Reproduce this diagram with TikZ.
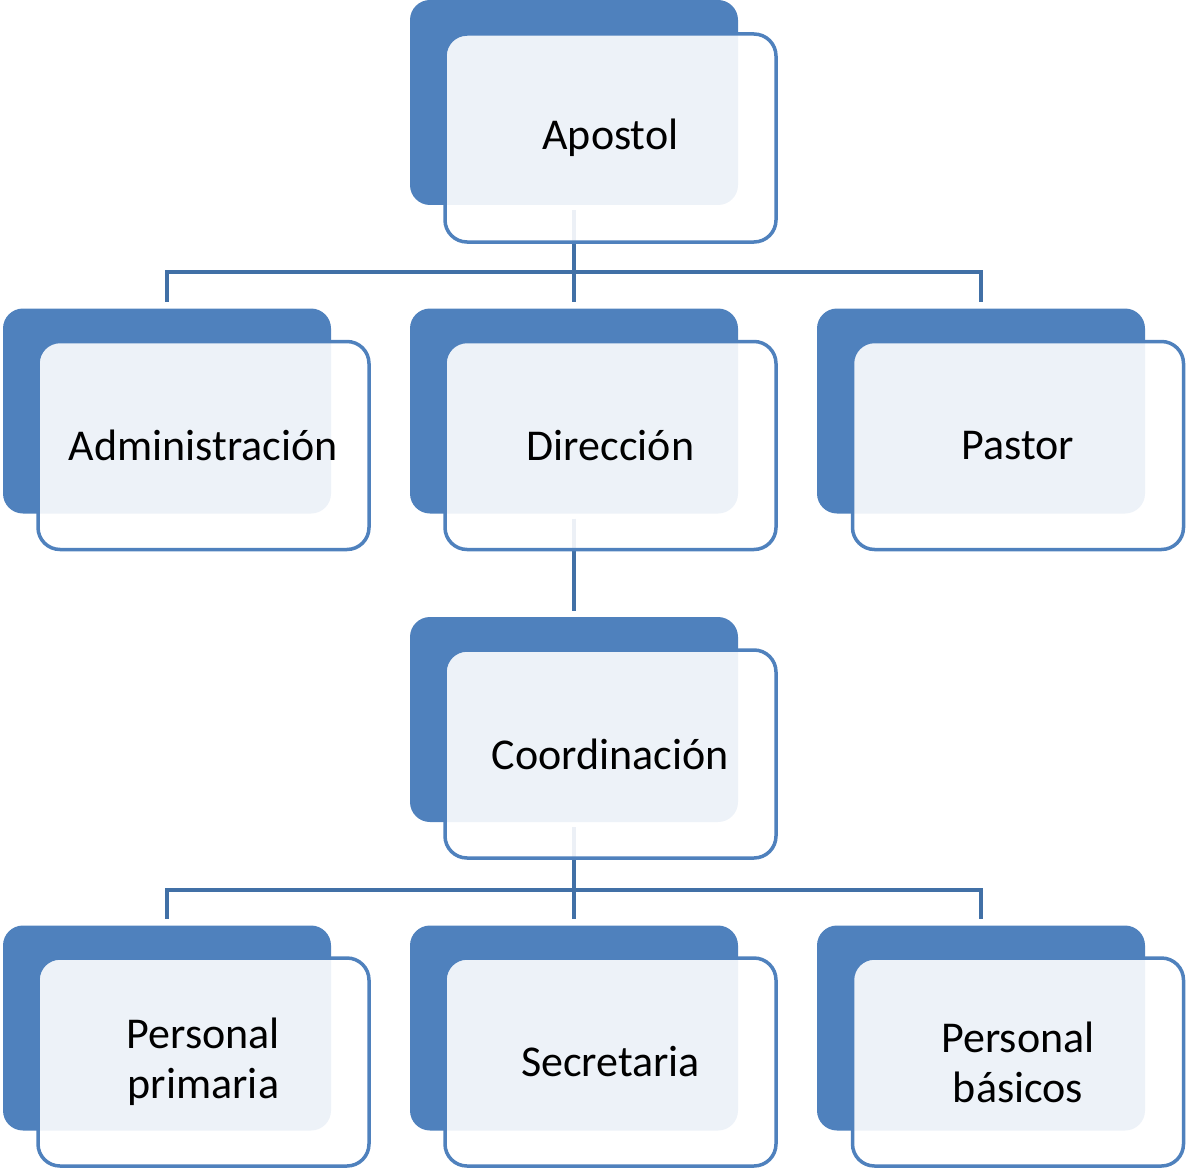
\documentclass[tikz,border=0pt]{standalone}
\usepackage{fontspec}
\setmainfont{Carlito}
\definecolor{bk}{HTML}{4F81BD}
\definecolor{ln}{HTML}{4170A6}
\begin{document}
\begin{tikzpicture}[x=1pt,y=-1pt,
  backbox/.style={rectangle, rounded corners=20pt, fill=bk, inner sep=0pt,
    minimum width=328pt, minimum height=205pt},
  frontbox/.style={rectangle, rounded corners=22pt, draw=bk, line width=3.5pt,
    fill=white, fill opacity=0.9, text opacity=1, inner sep=0pt, align=center,
    minimum width=331pt, minimum height=208pt,
    font=\fontsize{44}{50}\selectfont},
  conn/.style={draw=ln, line width=4pt}]
\useasboundingbox (0,0) rectangle (1188,1169);
% back boxes
\node[backbox] (Ab) at (574,102.5) {};
\node[backbox] (B1b) at (167,411) {};
\node[backbox] (B2b) at (574,411) {};
\node[backbox] (B3b) at (981,411) {};
\node[backbox] (Cb) at (574,719.5) {};
\node[backbox] (D1b) at (167,1028) {};
\node[backbox] (D2b) at (574,1028) {};
\node[backbox] (D3b) at (981,1028) {};
% connectors
\coordinate (j1) at (574,272);
\coordinate (j2) at (574,890);
\draw[conn, shorten <=5pt] (Ab.south) -- (j1);
\draw[conn, shorten >=6pt] (j1) -- (B2b.north);
\draw[conn, shorten >=6pt] (j1) -| (B1b.north);
\draw[conn, shorten >=6pt] (j1) -| (B3b.north);
\draw[conn, shorten <=5pt, shorten >=6pt] (B2b.south) -- (Cb.north);
\draw[conn, shorten <=5pt] (Cb.south) -- (j2);
\draw[conn, shorten >=6pt] (j2) -- (D2b.north);
\draw[conn, shorten >=6pt] (j2) -| (D1b.north);
\draw[conn, shorten >=6pt] (j2) -| (D3b.north);
% front boxes
\node[frontbox] (A) at (610.5,138) {Apostol};
\node[frontbox] (B1) at (203.5,445.5) {Administración};
\node[frontbox] (B2) at (610.5,445.5) {Dirección};
\node[frontbox] (B3) at (1018,445.5) {Pastor};
\node[frontbox] (C) at (610.5,754) {Coordinación};
\node[frontbox] (D1) at (203.5,1062) {Personal\\primaria};
\node[frontbox] (D2) at (610.5,1062) {Secretaria};
\node[frontbox] (D3) at (1018,1062) {Personal\\básicos};
\end{tikzpicture}
\end{document}
